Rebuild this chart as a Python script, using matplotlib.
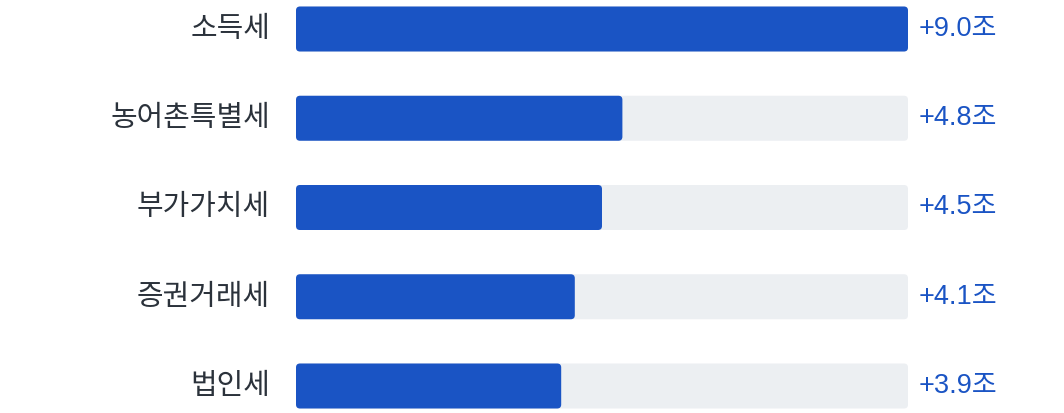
import matplotlib
matplotlib.use("Agg")
import matplotlib.pyplot as plt
from matplotlib.patches import FancyBboxPatch

# data
categories = ["소득세", "농어촌특별세", "부가가치세", "증권거래세", "법인세"]
values = [9.0, 4.8, 4.5, 4.1, 3.9]
value_labels = ["+9.0조", "+4.8조", "+4.5조", "+4.1조", "+3.9조"]

blue = "#1a54c4"
track = "#eceff2"
text_dark = "#2b323b"

plt.rcParams["font.family"] = ["Noto Sans CJK KR", "DejaVu Sans"]

W, H = 1064, 413
fig = plt.figure(figsize=(W / 100, H / 100), dpi=100)
ax_left, ax_right = 296, 908
ax = fig.add_axes([ax_left / W, 0, (ax_right - ax_left) / W, 1])

xmax = max(values)
px_x = (ax_right - ax_left) / xmax
row_px = 89.25
top_c, bot_c = 29, 386
ylim_top = -top_c / row_px
ylim_bot = (len(categories) - 1) + (H - bot_c) / row_px
ax.set_xlim(0, xmax)
ax.set_ylim(ylim_bot, ylim_top)
ax.axis("off")

bar_h = 45 / row_px
radius = 4 / px_x
aspect = px_x / row_px

for i, (cat, v, lab) in enumerate(zip(categories, values, value_labels)):
    y0 = i - bar_h / 2
    bg = FancyBboxPatch((0, y0), xmax, bar_h,
                        boxstyle=f"round,pad=0,rounding_size={radius}",
                        mutation_aspect=aspect, fc=track, ec="none")
    ax.add_patch(bg)
    fg = FancyBboxPatch((0, y0), v, bar_h,
                        boxstyle=f"round,pad=0,rounding_size={radius}",
                        mutation_aspect=aspect, fc=blue, ec="none")
    ax.add_patch(fg)
    ax.text(-26 / px_x, i, cat, ha="right", va="center", fontsize=20.8,
            color=text_dark, clip_on=False)
    ax.text(xmax + 11 / px_x, i, lab, ha="left", va="center", fontsize=19.5,
            color=blue, clip_on=False,
            family=["Liberation Sans", "Noto Sans CJK KR"])

fig.savefig("out.png", dpi=100)
